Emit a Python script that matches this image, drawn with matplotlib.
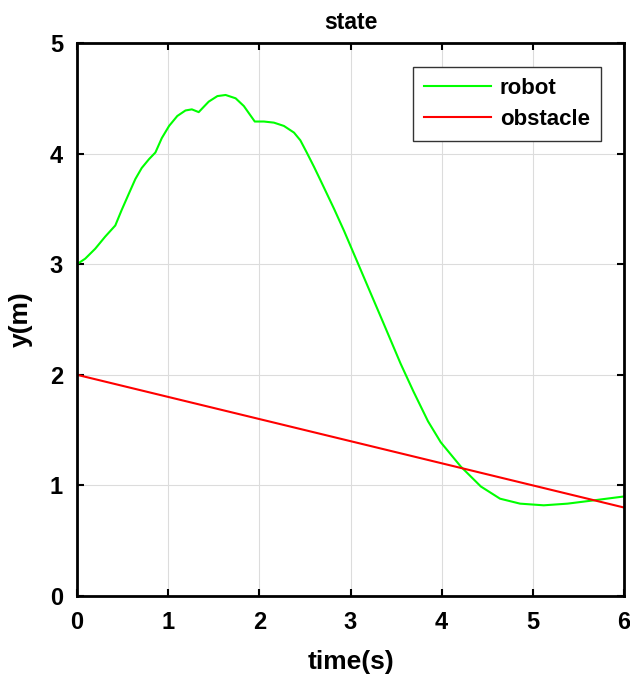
import matplotlib.pyplot as plt

plt.rcParams['font.family'] = ['Liberation Sans', 'DejaVu Sans']
plt.rcParams['font.weight'] = 'bold'

# robot trajectory (y position over time)
robot_t = [0.0, 0.09, 0.20, 0.31, 0.42, 0.49, 0.57, 0.64, 0.71, 0.79, 0.86,
           0.93, 1.01, 1.10, 1.19, 1.26, 1.335, 1.41, 1.445, 1.54, 1.63, 1.74,
           1.83, 1.89, 1.95, 2.05, 2.16, 2.27, 2.38, 2.45, 2.52, 2.60, 2.67,
           2.82, 2.93, 3.07, 3.22, 3.36, 3.55, 3.69, 3.85, 3.99, 4.21, 4.43,
           4.64, 4.86, 5.12, 5.38, 5.67, 6.0]
robot_y = [3.0, 3.05, 3.14, 3.25, 3.35, 3.49, 3.64, 3.77, 3.87, 3.95, 4.01,
           4.14, 4.25, 4.34, 4.39, 4.40, 4.375, 4.44, 4.47, 4.52, 4.53, 4.50,
           4.43, 4.36, 4.29, 4.29, 4.28, 4.25, 4.19, 4.12, 4.01, 3.88, 3.76,
           3.50, 3.30, 3.03, 2.74, 2.47, 2.10, 1.85, 1.58, 1.39, 1.17, 0.99,
           0.88, 0.835, 0.82, 0.835, 0.865, 0.90]

obstacle_t = [0.0, 6.0]
obstacle_y = [2.0, 0.8]

fig = plt.figure(figsize=(6.3, 6.83), dpi=100)
ax = fig.add_axes([77 / 630, 1 - 596 / 683, 547 / 630, 553 / 683])

ax.plot(robot_t, robot_y, color='#00ff00', lw=1.5, label='robot')
ax.plot(obstacle_t, obstacle_y, color='#ff0000', lw=1.5, label='obstacle')

ax.set_xlim(0, 6)
ax.set_ylim(0, 5)
ax.set_xticks(range(0, 7))
ax.set_yticks(range(0, 6))
ax.grid(True, color='#dcdcdc', lw=0.8)
ax.tick_params(direction='in', top=True, right=True, length=5, width=1.5,
               labelsize=17, pad=11)
ax.tick_params(axis='y', pad=10)
for s in ax.spines.values():
    s.set_linewidth(2)

ax.set_xlabel('time(s)', fontsize=19, fontweight='bold', labelpad=11)
ax.set_ylabel('y(m)', fontsize=19, fontweight='bold', labelpad=12)
ax.set_title('state', fontsize=16.5, fontweight='bold', pad=10)

leg = ax.legend(loc='upper right', bbox_to_anchor=(0.958, 0.957), fontsize=16,
                fancybox=False, framealpha=1, edgecolor='#333333',
                handlelength=3.0, handletextpad=0.4, borderpad=0.5,
                labelspacing=0.45, borderaxespad=0)
leg.get_frame().set_linewidth(1.0)

fig.savefig('out.png', dpi=100)
